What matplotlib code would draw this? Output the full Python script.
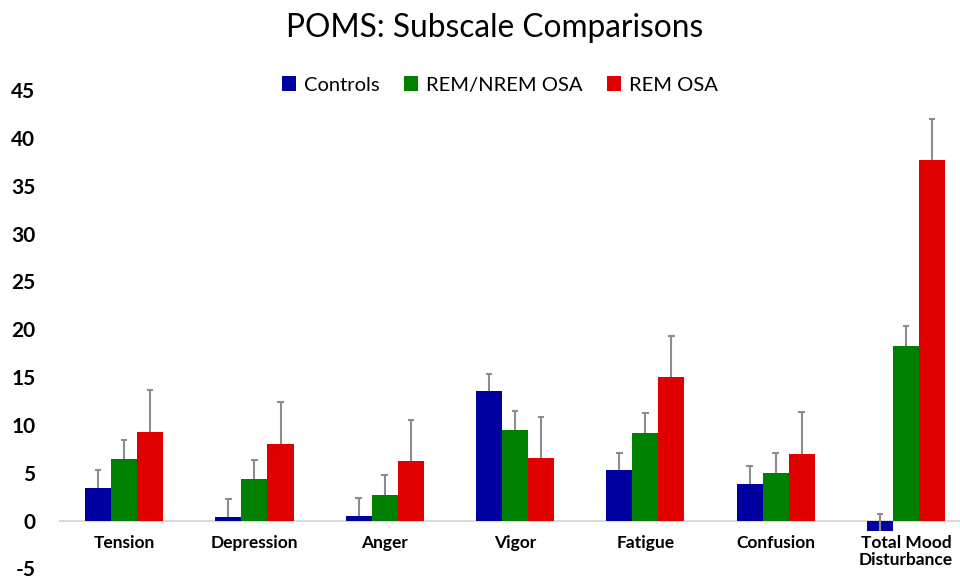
import matplotlib
matplotlib.use("Agg")
import matplotlib.pyplot as plt
from matplotlib.patches import Patch
import numpy as np

categories = ["Tension", "Depression", "Anger", "Vigor", "Fatigue", "Confusion", "Total Mood\nDisturbance"]
series_names = ["Controls", "REM/NREM OSA", "REM OSA"]
controls = [3.4, 0.4, 0.5, 13.5, 5.3, 3.8, -1.1]
controls_err = [1.9, 1.9, 1.9, 1.8, 1.8, 1.9, 1.8]
remnrem = [6.4, 4.3, 2.7, 9.5, 9.2, 5.0, 18.2]
remnrem_err = [2.0, 2.0, 2.1, 2.0, 2.1, 2.1, 2.1]
rem = [9.3, 8.0, 6.2, 6.5, 15.0, 7.0, 37.7]
rem_err = [4.4, 4.4, 4.3, 4.3, 4.3, 4.4, 4.3]
yticks = list(range(-5, 46, 5))

colors = ["#0000A0", "#008000", "#E00000"]
FONT = "Lato"

fig = plt.figure(figsize=(9.6, 5.79), dpi=100)
W, H = 960, 579
left_px, cat_px = 59, 130.3
ax_w = 7 * cat_px
top_px, bot_px = 90, 568.5
ax = fig.add_axes([left_px / W, (H - bot_px) / H, ax_w / W, (bot_px - top_px) / H])

x = np.arange(len(categories))
bw = 0.2
cap_half = 0.025
data = [(controls, controls_err), (remnrem, remnrem_err), (rem, rem_err)]
for i, ((vals, errs), c, name) in enumerate(zip(data, colors, series_names)):
    pos = x + (i - 1) * bw
    vals = np.array(vals)
    tops = vals + np.array(errs)
    ax.bar(pos, vals, width=bw, color=c, label=name, zorder=2)
    ax.vlines(pos, vals, tops, color="#8c8c8c", lw=1.5, zorder=3)
    ax.hlines(tops, pos - cap_half, pos + cap_half, color="#8c8c8c", lw=1.5, zorder=3)

ax.axhline(0, color="#d9d9d9", lw=1.5, zorder=1)
ax.set_xlim(-0.5, 6.5)
ax.set_ylim(-5, 45)
ax.set_yticks(yticks)
ax.set_yticklabels([str(t) for t in yticks], fontsize=15, fontweight="bold", family=FONT)
ax.tick_params(axis="y", length=0, pad=17)
ax.set_xticks([])
for s in ax.spines.values():
    s.set_visible(False)

for xi, lab in zip(x, categories):
    ax.text(xi, -1.5, lab, ha="center", va="top", fontsize=12.5, fontweight="bold",
            family=FONT, linespacing=1.05)

fig.text(495 / W, 1 - 28 / H, "POMS: Subscale Comparisons", ha="center", va="center",
         fontsize=22.8, family=FONT)

handles = [Patch(facecolor=c, label=n) for c, n in zip(colors, series_names)]
fig.legend(handles=handles, loc="center", bbox_to_anchor=(500 / W, 1 - 85 / H), ncol=3,
           frameon=False, prop={"family": FONT, "size": 14.5}, handlelength=0.7,
           handleheight=0.7, handletextpad=0.4, columnspacing=1.2)

fig.savefig("out.png", dpi=100)
